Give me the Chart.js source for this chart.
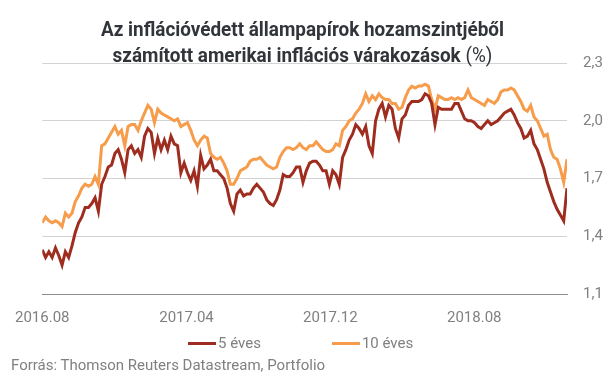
<!DOCTYPE html>
<html>
<head>
  <meta charset="UTF-8">
  <script src="https://cdn.jsdelivr.net/npm/chart.js@4"></script>
  <style>
    body { margin: 0; background: #fff; }
    .wrap { position: relative; width: 605px; height: 378px; font-family: Roboto, sans-serif; }
    .wrap canvas { position: absolute; left: 0; top: 0; }
    .title {
      position: absolute; left: 0; top: 16px; width: 605px;
      text-align: center; font-weight: bold; font-size: 21px; line-height: 26px; color: #31353a;
      transform: scaleX(0.9); transform-origin: 302px 0;
    }
    .title .unit { font-weight: normal; }
    .legend { position: absolute; left: 188px; top: 334px; display: flex; gap: 71px; font-size: 15px; color: #808080; }
    .legend span { display: flex; align-items: center; line-height: 18px; }
    .legend i { display: inline-block; width: 28px; height: 3px; margin-right: 2px; }
    .source { position: absolute; left: 11px; top: 356px; font-size: 15px; line-height: 18px; color: #808080; }
  </style>
</head>
<body>
  <div class="wrap">
    <canvas id="myChart" width="605" height="378"></canvas>
    <div class="title">Az inflációvédett állampapírok hozamszintjéből<br>számított amerikai inflációs várakozások <span class="unit">(%)</span></div>
    <div class="legend" id="legend"></div>
    <div class="source">Forrás: Thomson Reuters Datastream, Portfolio</div>
  </div>
  <script>
    // x tengely: 2016.08 -> 2019.01, kb. 4 naponta egy pont
    var tickLabels = ['2016.08', '2017.04', '2017.12', '2018.08'];
    var tickPos = [0, 43.7, 87.3, 130.9];

    var otEves = [
      1.33, 1.29, 1.32, 1.29, 1.34, 1.30, 1.25, 1.32, 1.29, 1.35,
      1.42, 1.47, 1.50, 1.55, 1.55, 1.57, 1.60, 1.53, 1.67, 1.71,
      1.76, 1.77, 1.83, 1.85, 1.80, 1.73, 1.85, 1.87, 1.83, 1.85,
      1.81, 1.92, 1.96, 1.94, 1.83, 1.91, 1.85, 1.90, 1.85, 1.92,
      1.88, 1.87, 1.73, 1.78, 1.73, 1.69, 1.74, 1.66, 1.82, 1.75,
      1.77, 1.80, 1.74, 1.74, 1.72, 1.70, 1.65, 1.57, 1.53, 1.62,
      1.64, 1.61, 1.62, 1.62, 1.65, 1.67, 1.65, 1.63, 1.59, 1.57,
      1.56, 1.59, 1.64, 1.72, 1.71, 1.71, 1.73, 1.76, 1.76, 1.68,
      1.74, 1.78, 1.79, 1.79, 1.77, 1.74, 1.74, 1.67, 1.74, 1.72,
      1.67, 1.81, 1.85, 1.90, 1.93, 1.98, 1.96, 1.93, 1.97, 1.87,
      1.83, 2.00, 2.06, 2.09,
      2.02, 2.08, 2.06, 1.96, 1.91, 2.01, 2.03, 2.08, 2.10, 2.10,
      2.10, 2.11, 2.14, 2.13, 2.09, 1.98, 2.07, 2.06, 2.06, 2.06,
      2.06, 2.09, 2.09, 2.05, 2.01, 2.00, 2.00, 1.99, 1.97, 1.96,
      1.98, 2.00, 1.98, 1.99, 2.00, 2.02, 2.04, 2.05, 2.06, 2.03,
      1.99, 1.96, 1.91, 1.92, 1.95, 1.88, 1.85, 1.80, 1.75, 1.68,
      1.63, 1.58, 1.54, 1.51, 1.48, 1.65
    ];

    var tizEves = [
      1.47, 1.50, 1.48, 1.47, 1.48, 1.47, 1.45, 1.52, 1.50, 1.52,
      1.58, 1.61, 1.65, 1.67, 1.66, 1.67, 1.71, 1.67, 1.87, 1.88,
      1.91, 1.94, 1.97, 1.93, 1.95, 1.87, 1.97, 1.98, 1.98, 1.95,
      2.00, 2.04, 2.08, 2.06, 1.99, 2.06, 2.04, 2.03, 2.02, 2.01,
      2.00, 2.01, 1.97, 1.98, 1.99, 1.95, 1.90, 1.87, 1.90, 1.92,
      1.91, 1.83, 1.81, 1.80, 1.81, 1.78, 1.74, 1.67, 1.67, 1.70,
      1.74, 1.75, 1.76, 1.79, 1.80, 1.80, 1.81, 1.79, 1.77, 1.76,
      1.75, 1.76, 1.81, 1.84, 1.86, 1.86, 1.85, 1.86, 1.88, 1.86,
      1.85, 1.87, 1.87, 1.89, 1.87, 1.85, 1.84, 1.84, 1.85, 1.88,
      1.87, 1.95, 1.97, 2.00, 2.01, 2.04, 2.06, 2.09, 2.14, 2.10,
      2.13, 2.11, 2.14, 2.12,
      2.11, 2.11, 2.09, 2.09, 2.06, 2.07, 2.12, 2.16, 2.18, 2.17,
      2.18, 2.18, 2.19, 2.18, 2.11, 2.06, 2.13, 2.12, 2.11, 2.11,
      2.12, 2.11, 2.12, 2.11, 2.12, 2.16, 2.12, 2.11, 2.10, 2.09,
      2.08, 2.11, 2.10, 2.09, 2.11, 2.15, 2.16, 2.16, 2.17, 2.16,
      2.13, 2.10, 2.06, 2.05, 2.08, 2.02, 2.00, 1.96, 1.92, 1.93,
      1.85, 1.81, 1.80, 1.75, 1.68, 1.80
    ];

    function pontok(arr) {
      return arr.map(function (v, i) { return { x: i, y: v }; });
    }

    var tickFont = { family: 'Roboto', size: 15 };

    var ctx = document.getElementById('myChart').getContext('2d');
    var chart = new Chart(ctx, {
      type: 'line',
      data: {
        datasets: [{
          label: '5 éves',
          data: pontok(otEves),
          borderColor: '#9e2d1f',
          borderWidth: 3,
          pointRadius: 0,
          fill: false
        }, {
          label: '10 éves',
          data: pontok(tizEves),
          borderColor: '#f69c4b',
          borderWidth: 3,
          pointRadius: 0,
          fill: false
        }]
      },
      options: {
        responsive: false,
        animation: false,
        layout: { padding: { left: 37, top: 63, right: 0, bottom: 36 } },
        plugins: {
          legend: { display: false },
          tooltip: { enabled: false }
        },
        scales: {
          x: {
            type: 'linear',
            min: 0,
            max: otEves.length - 1,
            afterBuildTicks: function (s) {
              s.ticks = tickPos.map(function (v) { return { value: v }; });
            },
            ticks: {
              padding: 15,
              color: '#808080',
              font: tickFont,
              autoSkip: false,
              maxRotation: 0,
              callback: function (v, i) { return tickLabels[i]; }
            },
            grid: { display: false, drawTicks: false },
            border: { display: true, color: '#8c8c8c', width: 1 }
          },
          y: {
            position: 'right',
            min: 1.1,
            max: 2.3,
            ticks: {
              stepSize: 0.3,
              padding: 16,
              color: '#808080',
              font: tickFont,
              callback: function (v) { return v.toFixed(1).replace('.', ','); }
            },
            grid: { color: '#d2d2d2', drawTicks: false },
            border: { display: false },
            afterFit: function (s) { s.width = 38; }
          }
        }
      }
    });

    // legend HTML-ben, a datasetekből
    var leg = document.getElementById('legend');
    chart.data.datasets.forEach(function (ds) {
      var item = document.createElement('span');
      item.innerHTML = '<i style="background:' + ds.borderColor + '"></i>' + ds.label;
      leg.appendChild(item);
    });
  </script>
</body>
</html>
